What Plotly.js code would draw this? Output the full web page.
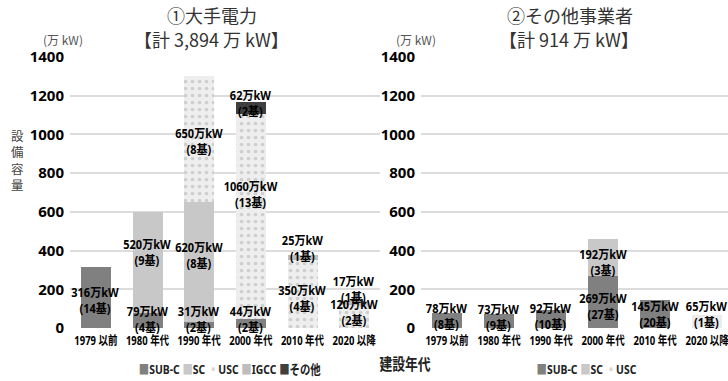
<!DOCTYPE html>
<html>
<head>
<meta charset="utf-8">
<script src="https://cdn.plot.ly/plotly-3.0.1.min.js"></script>
<style>
html,body{margin:0;padding:0;background:#fff;}
#chart{width:728px;height:381px;}
.narrowtxt{transform-box:fill-box;transform-origin:center;transform:scaleX(0.88);}
.legtxt{transform-box:fill-box;transform-origin:center;transform:scaleX(0.8);}
g.xtick, g.x2tick{transform-box:fill-box;transform-origin:center;transform:scaleX(0.76);}
</style>
</head>
<body>
<div id="chart"></div>
<script>
// ---- data ----
const categories = ['1979 以前', '1980 年代', '1990 年代', '2000 年代', '2010 年代', '2020 以降'];

// ① 大手電力 (万kW) and unit counts (基)
const majorSubC   = [316, 79, 31, 44, null, null];
const majorSC     = [null, 520, 620, null, null, null];
const majorUSC    = [null, null, 650, 1060, 350, 120];
const majorIGCC   = [null, null, null, null, 25, 17];
const majorOther  = [null, null, null, 62, null, null];
const majorSubCUnits  = [14, 4, 2, 2, null, null];
const majorSCUnits    = [null, 9, 8, null, null, null];
const majorUSCUnits   = [null, null, 8, 13, 4, 2];
const majorIGCCUnits  = [null, null, null, null, 1, 1];
const majorOtherUnits = [null, null, null, 2, null, null];

// ② その他事業者
const otherSubC  = [78, 73, 92, 269, 145, null];
const otherSC    = [null, null, null, 192, null, null];
const otherUSC   = [null, null, null, null, null, 65];
const otherSubCUnits = [8, 9, 10, 27, 20, null];
const otherSCUnits   = [null, null, null, 3, null, null];
const otherUSCUnits  = [null, null, null, null, null, 1];

const seriesNames = ['SUB-C', 'SC', 'USC', 'IGCC', 'その他'];

// label vertical nudges (data units) relative to segment centre
const majorOffsets = [
  [-18, 6, 30, 24, 0, 0],
  [0, 53, 36, 0, 0, 0],
  [0, 0, -10, 118, -25, 20],
  [0, 0, 0, 0, 50, 71],
  [0, 0, 0, 27, 0, 0]
];
const otherOffsets = [
  [18, 20, 11, -21, -5, 0],
  [0, 0, 0, -25, 0, 0],
  [0, 0, 0, 0, 0, 35]
];

// ---- styles ----
const SANS = "'Noto Sans', 'Noto Sans CJK JP', sans-serif";
const CJK = "'Noto Sans CJK JP', sans-serif";
const colors = {
  'SUB-C': '#808080', 'SC': '#c8c8c8', 'USC': '#eeeeee', 'IGCC': '#bdbdbd', 'その他': '#3f3f3f'
};

function mkTrace(name, y, xa, ya) {
  const t = {
    type: 'bar', name: name, x: categories, y: y, xaxis: xa, yaxis: ya,
    marker: {color: colors[name], line: {width: 0}},
    hoverinfo: 'skip', showlegend: false
  };
  if (name === 'USC' && xa === 'x') {
    t.marker.pattern = {shape: '.', fillmode: 'overlay', fgcolor: '#b0b0b0', size: 7, solidity: 0.22};
  }
  if (name === 'USC' && xa === 'x2') t.marker.color = '#ececec';
  return t;
}

const majorSeries = [majorSubC, majorSC, majorUSC, majorIGCC, majorOther];
const majorUnits = [majorSubCUnits, majorSCUnits, majorUSCUnits, majorIGCCUnits, majorOtherUnits];
const otherSeries = [otherSubC, otherSC, otherUSC];
const otherUnits = [otherSubCUnits, otherSCUnits, otherUSCUnits];

const traces = [];
majorSeries.forEach((s, i) => traces.push(mkTrace(seriesNames[i], s, 'x', 'y')));
otherSeries.forEach((s, i) => traces.push(mkTrace(seriesNames[i], s, 'x2', 'y2')));

const annotations = [];
const narrowIdx = [];
const legIdx = [];
function addLabels(seriesList, unitsList, offsets, xr, yr) {
  const base = categories.map(() => 0);
  seriesList.forEach((s, si) => {
    s.forEach((v, ci) => {
      if (v == null) return;
      const centre = base[ci] + v / 2 + offsets[si][ci];
      narrowIdx.push(annotations.length);
      annotations.push({
        xref: xr, yref: yr, x: ci, y: centre, showarrow: false,
        text: v + '万kW<br>(' + unitsList[si][ci] + '基)',
        font: {family: SANS, size: 12.5, color: '#000', weight: 'bold'},
        xanchor: 'center', yanchor: 'middle', align: 'center'
      });
      base[ci] += v;
    });
  });
}
addLabels(majorSeries, majorUnits, majorOffsets, 'x', 'y');
addLabels(otherSeries, otherUnits, otherOffsets, 'x2', 'y2');

function txt(text, x, y, size, color, family, weight, list) {
  if (list) list.push(annotations.length);
  annotations.push({xref: 'paper', yref: 'paper', x: x, y: y, text: text, showarrow: false,
    xanchor: 'center', yanchor: 'middle',
    font: {family: family, size: size, color: color, weight: weight || 'normal'}});
}
txt('①大手電力', 0.291, 1.155, 18, '#333', CJK);
txt('【計 3,894 万 kW】', 0.291, 1.066, 18, '#333', CJK);
txt('(万 kW)', 0.0865, 1.066, 12, '#555', CJK);
txt('②その他事業者', 0.783, 1.155, 18, '#333', CJK);
txt('【計 914 万 kW】', 0.782, 1.066, 18, '#333', CJK);
txt('(万 kW)', 0.571, 1.066, 12, '#555', CJK);
txt('設<br>備<br>容<br>量', 0.0234, 0.62, 12.5, '#444', CJK);
txt('建設年代', 0.556, -0.128, 16, '#222', CJK, 'bold', legIdx);

function legendText(names) {
  return names.map(n => {
    const sym = n === 'USC' ? '▪' : '■';
    const c = n === 'USC' ? '#d6d6d6' : colors[n];
    return '<span style="color:' + c + '">' + sym + '</span>' + n;
  }).join(' ');
}
txt(legendText(seriesNames), 0.316, -0.15, 13, '#222', SANS, 'bold', legIdx);
txt(legendText(['SUB-C', 'SC', 'USC']), 0.805, -0.15, 13, '#222', SANS, 'bold', legIdx);

const yaxisBase = {
  range: [0, 1400], dtick: 200, showgrid: true, gridcolor: '#dcdcdc', gridwidth: 2,
  zeroline: false, showline: false, ticks: '',
  tickfont: {family: SANS, size: 15, color: '#000', weight: 'bold'},
  ticklabelstandoff: 5, fixedrange: true
};
const xaxisBase = {
  type: 'category', showgrid: false, zeroline: false, showline: false, ticks: '',
  tickangle: 0, ticklabelstandoff: 4,
  tickfont: {family: SANS, size: 12.5, color: '#000', weight: 'bold'}, fixedrange: true
};

const layout = {
  width: 728, height: 381,
  margin: {l: 0, r: 0, t: 57, b: 53},
  paper_bgcolor: '#fff', plot_bgcolor: '#fff',
  barmode: 'stack', bargap: 0.42,
  showlegend: false,
  xaxis: Object.assign({}, xaxisBase, {domain: [0.0962, 0.522], anchor: 'y', range: [-0.5, 5.5]}),
  yaxis: Object.assign({}, yaxisBase, {anchor: 'x'}),
  xaxis2: Object.assign({}, xaxisBase, {domain: [0.5783, 1], anchor: 'y2', range: [-0.5, 5.4]}),
  yaxis2: Object.assign({}, yaxisBase, {anchor: 'x2'}),
  annotations: annotations
};

Plotly.newPlot('chart', traces, layout, {displayModeBar: false, staticPlot: true}).then(gd => {
  const nset = new Set(narrowIdx), lset = new Set(legIdx);
  gd.querySelectorAll('g.annotation').forEach(g => {
    const i = +g.getAttribute('data-index');
    const t = g.querySelector('text.annotation-text');
    if (!t) return;
    if (nset.has(i)) t.classList.add('narrowtxt');
    if (lset.has(i)) t.classList.add('legtxt');
  });
});
</script>
</body>
</html>
